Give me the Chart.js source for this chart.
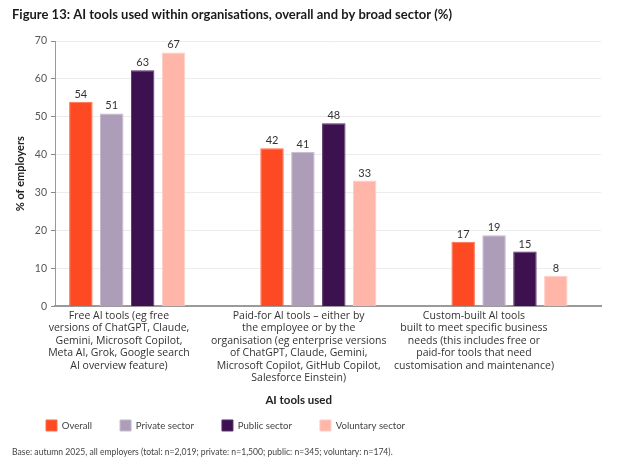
<!DOCTYPE html>
<html><head><meta charset="utf-8">
<script src="https://cdn.jsdelivr.net/npm/chart.js@4/dist/chart.umd.min.js"></script>
<style>html,body{margin:0;padding:0;background:#fff;overflow:hidden;}</style>
</head><body>
<canvas id="c" width="617" height="465"></canvas>
<script>
// ---- data ----
const categories = [
  ["Free AI tools (eg free", "versions of ChatGPT, Claude,", "Gemini, Microsoft Copilot,", "Meta AI, Grok, Google search", "AI overview feature)"],
  ["Paid-for AI tools – either by", "the employee or by the", "organisation (eg enterprise versions", "of ChatGPT, Claude, Gemini,", "Microsoft Copilot, GitHub Copilot,", "Salesforce Einstein)"],
  ["Custom-built AI tools", "built to meet specific business", "needs (this includes free or", "paid-for tools that need", "customisation and maintenance)"]
];
const seriesNames = ["Overall", "Private sector", "Public sector", "Voluntary sector"];
const overall = [54, 41.7, 17.1];
const privateSector = [50.9, 40.8, 18.8];
const publicSector = [62.3, 48.3, 14.5];
const voluntarySector = [67, 33.2, 8.1];
const overallLabels = [54, 42, 17];
const privateLabels = [51, 41, 19];
const publicLabels = [63, 48, 15];
const voluntaryLabels = [67, 33, 8];
const yTicks = [0, 10, 20, 30, 40, 50, 60, 70];
const titleText = "Figure 13: AI tools used within organisations, overall and by broad sector (%)";
const yTitle = "% of employers";
const xTitle = "AI tools used";
const footnote = "Base: autumn 2025, all employers (total: n=2,019; private: n=1,500; public: n=345; voluntary: n=174).";

// ---- styling ----
const fills = ["#fe4a23", "#ad9db8", "#3d1150", "#ffb6a8"];
const borders = ["#ff6c4c", "#c6b9cf", "#55306a", "#ffcdc3"];
const seriesValues = [overall, privateSector, publicSector, voluntarySector];
const seriesLabels = [overallLabels, privateLabels, publicLabels, voluntaryLabels];
// category label anchors are placed slightly left of the bar groups, as in the source figure
const labelAnchorShift = [-0.043, -0.103, -0.186];

Chart.defaults.font.family = "Lato, 'Open Sans', sans-serif";
Chart.defaults.color = "#444";

const valueLabelPlugin = {
  id: 'valueLabels',
  afterDatasetsDraw(chart) {
    const ctx = chart.ctx;
    ctx.save();
    ctx.font = "11px Lato";
    ctx.fillStyle = "#333";
    ctx.textAlign = "center";
    ctx.textBaseline = "bottom";
    chart.data.datasets.forEach((ds, di) => {
      const meta = chart.getDatasetMeta(di);
      meta.data.forEach((bar, i) => {
        ctx.fillText(String(seriesLabels[di][i]), bar.x, bar.y - 2);
      });
    });
    ctx.restore();
  }
};

const extraTextPlugin = {
  id: 'extraText',
  afterLayout(chart) {
    if (chart.legend) { chart.legend.left += 6; chart.legend.right += 6; }
  },
  afterDraw(chart) {
    const ctx = chart.ctx;
    const xs = chart.scales.x;
    const mid = xs.getPixelForValue(1 + labelAnchorShift[1]);
    ctx.save();
    ctx.font = "bold 11.5px Lato";
    ctx.fillStyle = "#222";
    ctx.textAlign = "center";
    ctx.textBaseline = "middle";
    ctx.fillText(xTitle, mid, 400);
    ctx.restore();
  }
};

new Chart(document.getElementById('c'), {
  type: 'bar',
  data: {
    datasets: seriesNames.map((name, si) => ({
      label: name,
      data: seriesValues[si].map((v, i) => ({ x: i, y: v })),
      backgroundColor: fills[si],
      borderColor: borders[si],
      borderWidth: 1,
      categoryPercentage: 0.705,
      barPercentage: 0.76
    }))
  },
  options: {
    responsive: false,
    animation: false,
    devicePixelRatio: 1,
    layout: { padding: { left: 12, right: 16, top: 0, bottom: 0 } },
    plugins: {
      title: {
        display: true, text: titleText, align: 'start',
        color: "#1a1a1a", font: { size: 13, weight: 'bold', lineHeight: 1.2 },
        padding: { top: 7, bottom: 18.4 }
      },
      subtitle: {
        display: true, text: footnote, position: 'bottom', align: 'start',
        color: "#444", font: { size: 8.6, lineHeight: 1.2 },
        padding: { top: 15.5, bottom: 7.2 }
      },
      legend: {
        position: 'bottom', align: 'start', maxHeight: 40,
        labels: { boxWidth: 11, boxHeight: 11, padding: 28, color: "#444", font: { size: 9.6 } }
      },
      tooltip: { enabled: false }
    },
    scales: {
      x: {
        type: 'linear',
        min: -0.3777, max: 2.4787,
        offset: false,
        grid: { display: false, drawTicks: false, offset: false },
        border: { display: true, color: "#9a9a9a", width: 2 },
        afterBuildTicks(scale) { scale.ticks = categories.map((c, i) => ({ value: i + labelAnchorShift[i] })); },
        afterFit(scale) { scale.height = 85.5; },
        ticks: {
          autoSkip: false, maxRotation: 0, padding: 3,
          color: "#333", font: { family: "'Open Sans', Lato, sans-serif", size: 10.5, lineHeight: 1.19 },
          callback: (v, idx) => categories[idx]
        }
      },
      y: {
        min: 0, max: 70,
        afterBuildTicks(scale) { scale.ticks = yTicks.map(v => ({ value: v })); },
        afterFit(scale) { scale.width = 43; },
        grid: { color: "#ececec", tickColor: "#888", tickLength: 4, drawTicks: true },
        border: { display: true, color: "#999", width: 1 },
        ticks: { padding: 4, color: "#555", font: { size: 10.5 } },
        title: {
          display: true, text: yTitle, color: "#222",
          font: { size: 11, weight: 'bold', lineHeight: 1.2 },
          padding: { top: 1.5, bottom: 0 }
        }
      }
    }
  },
  plugins: [valueLabelPlugin, extraTextPlugin]
});
</script>
</body></html>
